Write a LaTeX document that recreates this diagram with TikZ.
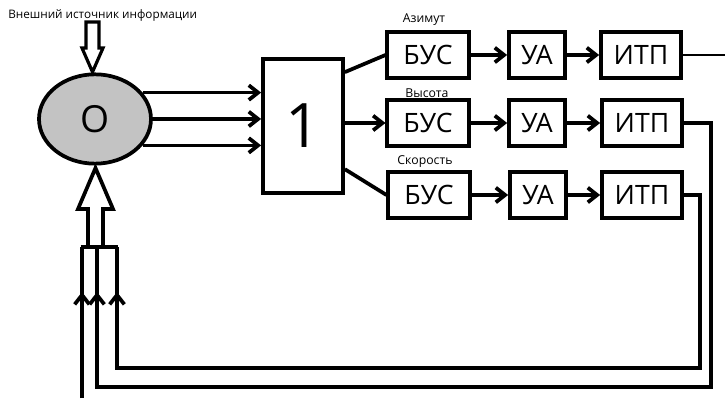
\documentclass[tikz,border=0pt]{standalone}
\usepackage{fontspec}
\setmainfont{Open Sans}
\usepackage{tikz}
\usetikzlibrary{arrows.meta,positioning,shapes.geometric}
\definecolor{objgray}{RGB}{195,195,195}
\tikzset{
    block/.style={
        rectangle,
        draw=black,
        line width=2.8pt,
        minimum height=35pt,
        inner sep=0pt,
        font=\fontsize{20}{22}\selectfont
    },
    flow/.style={
        -{Straight Barb[length=7pt,width=11pt]},
        line width=2.8pt
    },
    link/.style={
        line width=2.8pt
    },
    caption/.style={
        font=\fontsize{9.2}{11}\selectfont
    }
}

\begin{document}
\begin{tikzpicture}[x=0.75pt,y=-0.75pt]
\useasboundingbox (0,0) rectangle (725,399);

% Source label
\node[font=\fontsize{8.8}{10}\selectfont, anchor=west, inner sep=0pt] (source) at (8,15) {Внешний источник информации};

% Object
\node[ellipse, draw=black, line width=2.8pt, fill=objgray, minimum width=84pt, minimum height=67pt, inner sep=0pt, font=\fontsize{28}{30}\selectfont] (obj) at (95,119) {O};

% Block 1
\node[block, minimum width=60pt, minimum height=100pt, font=\fontsize{46}{48}\selectfont] (one) at (303,126) {1};

% Row: azimuth
\node[block, minimum width=61pt] (bus1) at (428,55) {БУС};
\node[block, minimum width=42pt] (ua1) at (537,55) {УА};
\node[block, minimum width=60pt] (itp1) at (641,55) {ИТП};
\node[caption] (azimuth) at (424,20) {Азимут};

% Row: height
\node[block, minimum width=61pt] (bus2) at (428,123) {БУС};
\node[block, minimum width=42pt] (ua2) at (537,123) {УА};
\node[block, minimum width=60pt] (itp2) at (642,123) {ИТП};
\node[caption] (height) at (427,93) {Высота};

% Row: speed
\node[block, minimum width=61pt] (bus3) at (429,195) {БУС};
\node[block, minimum width=42pt] (ua3) at (538,195) {УА};
\node[block, minimum width=60pt] (itp3) at (642,195) {ИТП};
\node[caption] (speed) at (425,162) {Скорость};

% Free ends
\coordinate (out1) at (725,0);
\coordinate (ext) at (82,398);

% Outer input (hollow arrow)
\draw[link, line width=2.4pt] (86,22) -- (86,48) -- (82,48) -- (92.5,72) -- (103,48) -- (99,48) -- (99,22) -- cycle;

% Object -> block 1
\draw[flow] (obj.29) -- (obj.29 -| one.west);
\draw[flow] (obj.east) -- (obj.east -| one.west);
\draw[flow] (obj.-29) -- (obj.-29 -| one.west);

% Block 1 -> BUS
\draw[link] ([yshift=-11pt]one.north east) -- (bus1.west);
\draw[flow] (one.east |- bus2.west) -- (bus2.west);
\draw[link] ([yshift=19pt]one.south east) -- (bus3.west);

% BUS -> UA -> ITP
\draw[flow] (bus1) -- (ua1);
\draw[flow] (ua1) -- (itp1);
\draw[flow] (bus2) -- (ua2);
\draw[flow] (ua2) -- (itp2);
\draw[flow] (bus3) -- (ua3);
\draw[flow] (ua3) -- (itp3);

% Outputs
\draw[line width=1.8pt] (itp1.east) -- (itp1.east -| out1);
\draw[link] (itp2.east) -| (711,387) -- (97,387) -- (97,247);
\draw[link] (itp3.east) -| (700,368) -- (117,368) -- (117,247);
\draw[link] (ext) -- (82,247);

% Arrowheads on the feedback lines
\draw[flow] (ext) -- (82,292);
\draw[flow] (97,387) -- (97,292);
\draw[flow] (117,368) -- (117,292);

% Bar and hollow arrow to object
\draw[link] (80.6,247) -- (118.4,247);
\draw[link] (88,247) -- (88,209) -- (78,209) -- (95.5,168) -- (113,209) -- (103,209) -- (103,247);
\end{tikzpicture}
\end{document}
